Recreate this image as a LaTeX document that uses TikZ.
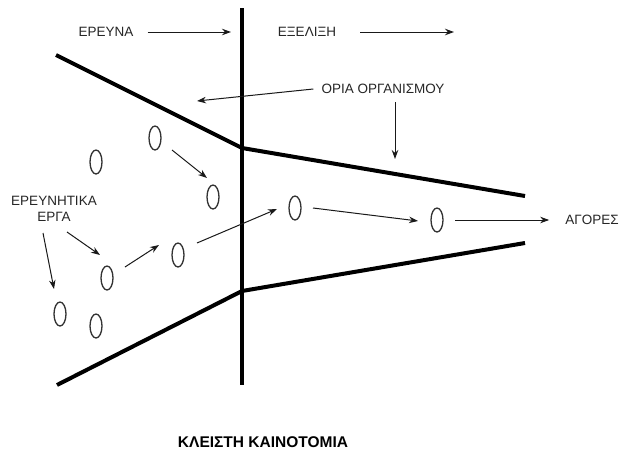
\documentclass[tikz,border=0pt]{standalone}
\usepackage{fontspec}
\setmainfont{Liberation Sans}
\usetikzlibrary{arrows.meta,shapes.geometric}
\tikzset{
  lbl/.style={inner sep=0pt, font=\fontsize{13.5}{16}\selectfont, text=black!85},
  oval/.style={ellipse, draw=black!80, line width=1.3pt, minimum width=12pt, minimum height=24pt, inner sep=0pt},
  arr/.style={-{Stealth[length=9pt,width=6.5pt]}, line width=1pt, black!90},
  bound/.style={line width=4pt, black},
  divider/.style={line width=3.5pt, black}
}
\begin{document}
\begin{tikzpicture}[x=1pt,y=-1pt]
\useasboundingbox[fill=white] (0,0) rectangle (623,455);
% vertical divider and boundaries
\coordinate (vtop) at (242,8);
\coordinate (vbot) at (242,385);
\draw[divider] (vtop) -- (vbot);
\coordinate (t1) at (56,55);
\coordinate (t2) at (242,148);
\coordinate (t3) at (525,196);
\coordinate (b1) at (57,385);
\coordinate (b2) at (242,291);
\coordinate (b3) at (525,243);
\draw[bound, line join=round] (t1) -- (t2) -- (t3);
\draw[bound, line join=round] (b1) -- (b2) -- (b3);
% labels
\node[lbl] (erevna) at (106,32) {ΕΡΕΥΝΑ};
\node[lbl] (exelixi) at (307,32) {ΕΞΕΛΙΞΗ};
\node[lbl] (oria) at (383,89) {ΟΡΙΑ ΟΡΓΑΝΙΣΜΟΥ};
\node[lbl, align=center] (erga) at (54,209) {ΕΡΕΥΝΗΤΙΚΑ\\ΕΡΓΑ};
\node[lbl] (agores) at (592,220) {ΑΓΟΡΕΣ};
\node[inner sep=0pt, font=\fontsize{15.5}{18}\selectfont\bfseries] (title) at (263,442) {ΚΛΕΙΣΤΗ ΚΑΙΝΟΤΟΜΙΑ};
% ovals
\node[oval] (e1) at (155,138) {};
\node[oval] (e2) at (96,162) {};
\node[oval] (e3) at (213,197) {};
\node[oval] (e4) at (295,208) {};
\node[oval] (e5) at (437,220) {};
\node[oval] (e6) at (178,255) {};
\node[oval] (e7) at (107,278) {};
\node[oval] (e8) at (60,314) {};
\node[oval] (e9) at (96,326) {};
% free arrow ends
\coordinate (c1) at (197,101);
\coordinate (c2) at (395,159);
\coordinate (c3) at (231,32);
\coordinate (c4) at (454,32);
% arrows
\draw[arr] ([xshift=14pt]erevna.east) -- (c3);
\draw[arr] ([xshift=24pt]exelixi.east) -- (c4);
\draw[arr] ([xshift=-8pt]oria.west) -- (c1);
\draw[arr] ([shift={(12,13)}]oria.center) -- (c2);
\draw[arr] ([shift={(17,12)}]e1.center) -- ([shift={(-6,-19)}]e3.center);
\draw[arr] ([shift={(18,-11)}]e7.center) -- ([shift={(-19,-10)}]e6.center);
\draw[arr] ([shift={(19,-12)}]e6.center) -- ([shift={(-18,1)}]e4.center);
\draw[arr] ([shift={(18,0)}]e4.center) -- ([shift={(-19,1)}]e5.center);
\draw[arr] ([shift={(18,0)}]e5.center) -- ([xshift=-16pt]agores.west);
\draw[arr] ([shift={(-11,24)}]erga.center) -- ([shift={(-6,-25)}]e8.center);
\draw[arr] ([shift={(13,23)}]erga.center) -- ([shift={(-7,-23)}]e7.center);
\end{tikzpicture}
\end{document}
